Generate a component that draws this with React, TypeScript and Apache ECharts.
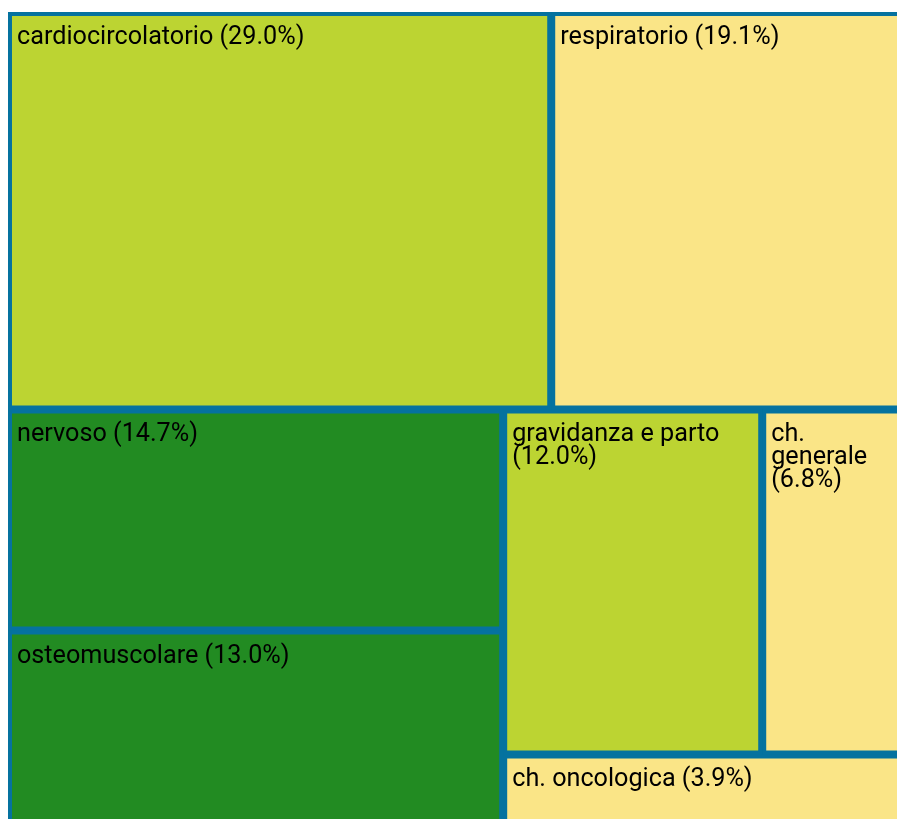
import React, { useEffect, useRef } from "react";
import * as echarts from "echarts";

// Categories and their shares (%)
const categories = [
  "cardiocircolatorio",
  "respiratorio",
  "nervoso",
  "osteomuscolare",
  "gravidanza e parto",
  "ch. generale",
  "ch. oncologica",
];
const shares = [29.0, 19.1, 14.7, 13.0, 12.0, 6.8, 3.9];
// block (row group) each category belongs to
const blockOf = [0, 0, 1, 1, 1, 1, 1];

const palette = [
  "#bcd432",
  "#fae587",
  "#228b22",
  "#228b22",
  "#bcd432",
  "#fae587",
  "#fae587",
];
const BORDER = "#05729f";

export default function App() {
  const ref = useRef<HTMLDivElement>(null);

  useEffect(() => {
    if (!ref.current) return;
    const chart = echarts.init(ref.current, undefined, { renderer: "svg" });

    const blocks = [0, 1].map((b) => ({
      name: "",
      children: categories
        .map((name, i) => ({ name, value: shares[i], idx: i }))
        .filter((d) => blockOf[d.idx] === b)
        .map((d) => ({
          name: d.name,
          value: d.value,
          itemStyle: { color: palette[d.idx] },
        })),
    }));

    chart.setOption({
      animation: false,
      series: [
        {
          type: "treemap",
          left: 0,
          top: 4,
          width: 901,
          height: 814,
          sort: false,
          roam: false,
          nodeClick: false,
          breadcrumb: { show: false },
          silent: true,
          emphasis: { disabled: true },
          levels: [
            {
              itemStyle: { borderWidth: 0, gapWidth: 0, borderColor: BORDER },
            },
            {
              itemStyle: { borderWidth: 0, gapWidth: 0, borderColor: BORDER },
            },
            {
              itemStyle: { borderWidth: 4, borderColor: BORDER, gapWidth: 0 },
            },
          ],
          label: {
            show: true,
            position: "insideTopLeft",
            color: "#000",
            fontFamily: "Roboto",
            fontSize: 25.2,
            lineHeight: 23,
            padding: [8, 5, 5, 5],
            overflow: "break",
            formatter: (p: any) => `${p.name} (${Number(p.value).toFixed(1)}%)`,
          },
          upperLabel: { show: false },
          data: blocks,
        },
      ],
    });

    return () => chart.dispose();
  }, []);

  return (
    <div
      ref={ref}
      style={{ position: "fixed", left: 8, top: 8, width: 920, height: 830 }}
    />
  );
}
